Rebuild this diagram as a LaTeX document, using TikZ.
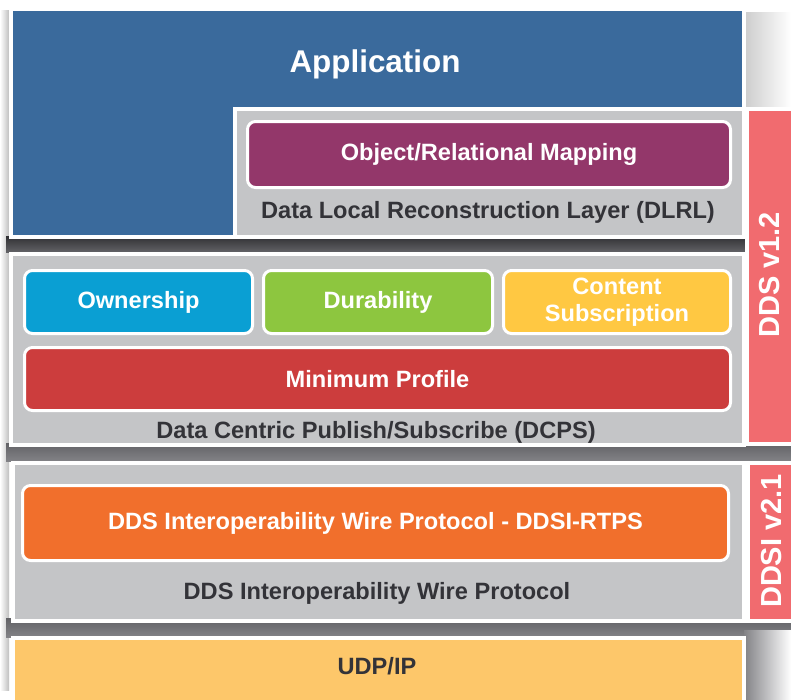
\documentclass[tikz,border=0pt]{standalone}
\usepackage{fontspec}
\setmainfont{Liberation Sans}

\definecolor{appblue}{RGB}{58,106,156}
\definecolor{layergray}{RGB}{196,197,199}
\definecolor{ormpurple}{RGB}{147,55,106}
\definecolor{ownblue}{RGB}{10,159,211}
\definecolor{durgreen}{RGB}{141,198,63}
\definecolor{contyellow}{RGB}{255,200,66}
\definecolor{minred}{RGB}{204,61,61}
\definecolor{barsalmon}{RGB}{241,107,111}
\definecolor{rtpsorange}{RGB}{241,111,44}
\definecolor{udporange}{RGB}{253,199,106}
\definecolor{captext}{RGB}{51,51,56}
\definecolor{shadowdark}{RGB}{48,48,51}
\definecolor{shadowmid}{RGB}{98,98,102}
\definecolor{shadowlight}{RGB}{130,130,134}

\tikzset{
  layer/.style={draw=white, line width=3.5pt, anchor=north west, inner sep=0pt},
  block/.style={draw=white, line width=3pt, rounded corners=8pt, anchor=north west,
    inner sep=0pt, text=white, font=\bfseries\fontsize{23.6}{27}\selectfont, align=center},
  caption/.style={text=captext, font=\bfseries\fontsize{23.6}{26}\selectfont},
  bartext/.style={text=white, rotate=90, font=\bfseries\fontsize{29}{31}\selectfont},
}

\begin{document}
\begin{tikzpicture}[x=1pt,y=-1pt]
\fill[white] (0,0) rectangle (791,699);
\useasboundingbox (0,0) rectangle (791,699);
% shadows between the layers
\shade[left color=white, right color=black!25] (0,10) rectangle (9,690);
\shade[top color=shadowdark, bottom color=shadowmid] (6,236) rectangle (746,252);
\shade[top color=shadowmid, bottom color=shadowlight] (6,443) rectangle (791,461);
\shade[top color=shadowmid, bottom color=shadowlight] (6,618) rectangle (791,637);
\shade[left color=shadowlight, right color=white] (744,630) rectangle (791,699);
\shade[left color=black!20, right color=white] (744,12) rectangle (791,107);
% application and DLRL
\node[layer, fill=appblue, minimum width=733pt, minimum height=228pt] (app) at (9,7) {};
\node[text=white, font=\bfseries\fontsize{31.4}{33}\selectfont] (applabel) at (375,64) {Application};
\node[layer, fill=layergray, minimum width=509pt, minimum height=128pt] (dlrl) at (233,107) {};
\node[block, fill=ormpurple, minimum width=483pt, minimum height=66pt] (orm) at (246,120) {};
\node[text=white, font=\bfseries\fontsize{23.6}{26}\selectfont] (ormlabel) at (orm.center) {Object/Relational Mapping};
\node[caption] (dlrllabel) at (488,212) {Data Local Reconstruction Layer (DLRL)};
\node[layer, fill=barsalmon, minimum width=60pt, minimum height=335pt] (ddsbar) at (745,107) {};
\node[bartext] (ddsbarlabel) at (770,275) {DDS v1.2};
% DCPS
\node[layer, fill=layergray, minimum width=733pt, minimum height=191pt] (dcps) at (9,252) {};
\node[block, fill=ownblue, minimum width=228pt, minimum height=63pt] (own) at (23,269) {Ownership};
\node[block, fill=durgreen, minimum width=229pt, minimum height=63pt] (dur) at (262,269) {Durability};
\node[block, fill=contyellow, minimum width=227pt, minimum height=63pt] (cont) at (502,269) {Content\\Subscription};
\node[block, fill=minred, minimum width=706pt, minimum height=63pt] (minp) at (23,346) {Minimum Profile};
\node[caption] (dcpslabel) at (376,432) {Data Centric Publish/Subscribe (DCPS)};
% DDSI
\node[layer, fill=layergray, minimum width=731pt, minimum height=158pt] (ddsi) at (11,461) {};
\node[layer, fill=barsalmon, minimum width=60pt, minimum height=158pt] (ddsibar) at (746,461) {};
\node[bartext] (ddsibarlabel) at (772,541) {DDSI v2.1};
\node[block, fill=rtpsorange, minimum width=706pt, minimum height=75pt] (rtps) at (21,484) {DDS Interoperability Wire Protocol - DDSI-RTPS};
\node[caption] (ddsilabel) at (377,593) {DDS Interoperability Wire Protocol};
% transport
\node[layer, fill=udporange, minimum width=731pt, minimum height=80pt] (udp) at (11,636) {};
\node[caption] (udplabel) at (377,666) {UDP/IP};
\end{tikzpicture}
\end{document}
